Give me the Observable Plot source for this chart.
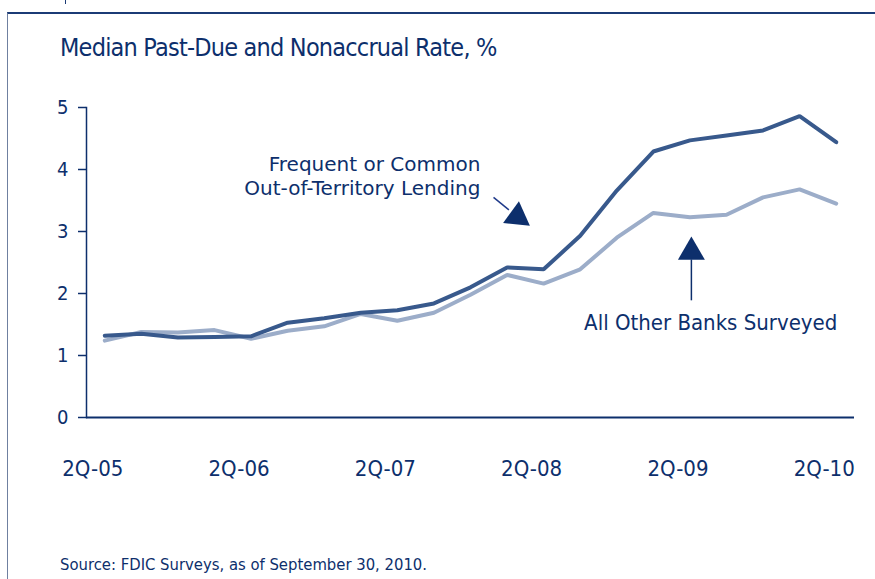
<!DOCTYPE html>
<html>
<head>
<meta charset="utf-8">
<script src="https://cdn.jsdelivr.net/npm/d3@7"></script>
<script src="https://cdn.jsdelivr.net/npm/@observablehq/plot@0.6"></script>
<style>
  html, body { margin: 0; padding: 0; background: #fff; }
  body { width: 875px; height: 579px; position: relative; overflow: hidden;
         font-family: "DejaVu Sans Condensed", "Liberation Sans", sans-serif; color: #0d2f6c; }
  #frame { position: absolute; left: 7px; top: 12px; right: 0; bottom: 0;
           border-top: 2px solid #1b3b76; border-left: 1px solid #6f80a0; }
  #nub { position: absolute; left: 65px; top: 0; width: 1px; height: 4px; background: #1b3b76; }
  #title { position: absolute; left: 60px; top: 33px; font-size: 25px; letter-spacing: -0.8px; line-height: 30px; white-space: nowrap; }
  #chart { position: absolute; left: 0; top: 80px; }
  #source { position: absolute; left: 60px; top: 555px; font-size: 16.5px; line-height: 20px; white-space: nowrap; }
</style>
</head>
<body>
<div id="frame"></div>
<div id="nub"></div>
<div id="title">Median Past-Due and Nonaccrual Rate, %</div>
<div id="chart"></div>
<div id="source">Source: FDIC Surveys, as of September 30, 2010.</div>
<script>
// Quarters 2Q-05 .. 2Q-10
const quarters = ["2Q-05","3Q-05","4Q-05","1Q-06","2Q-06","3Q-06","4Q-06","1Q-07","2Q-07","3Q-07","4Q-07",
                  "1Q-08","2Q-08","3Q-08","4Q-08","1Q-09","2Q-09","3Q-09","4Q-09","1Q-10","2Q-10"];
// Frequent or Common Out-of-Territory Lending
const outOfTerritory = [1.32,1.35,1.29,1.30,1.31,1.53,1.60,1.69,1.73,1.84,2.10,
                        2.42,2.39,2.93,3.66,4.29,4.47,4.55,4.63,4.86,4.44];
// All Other Banks Surveyed
const allOther = [1.24,1.38,1.37,1.41,1.27,1.40,1.47,1.67,1.56,1.69,1.98,
                  2.30,2.16,2.39,2.90,3.30,3.23,3.27,3.55,3.68,3.45];
const yTicks = [0,1,2,3,4,5];
const xTickLabels = ["2Q-05","2Q-06","2Q-07","2Q-08","2Q-09","2Q-10"];
const seriesNames = ["Frequent or Common\nOut-of-Territory Lending", "All Other Banks Surveyed"];

const NAVY = "#0d2f6c", DARK = "#38598c", LIGHT = "#9cadc9";
const narrow = `"DejaVu Sans Condensed", "Liberation Sans", sans-serif`;
const regular = `"DejaVu Sans", "Liberation Sans", sans-serif`;

const rows = quarters.map((q, i) => ({i, q, a: outOfTerritory[i], b: allOther[i]}));
const tickIdx = xTickLabels.map(l => quarters.indexOf(l));

// annotation anchors (data coordinates)
const darkLabel = [{x: 10.27, y: 3.90, t: seriesNames[0]}];
const darkStem = [{x1: 10.63, y1: 3.55, x2: 11.05, y2: 3.35}];
const darkHead = [{x: 11.28, y: 3.24}];
const lightLabel = [{x: 20.03, y: 1.53, t: seriesNames[1]}];
const lightStem = [{x1: 16.04, y1: 2.55, x2: 16.04, y2: 1.89}];
const lightHead = [{x: 16.04, y: 2.67}];

const chart = Plot.plot({
  width: 875, height: 400,
  marginLeft: 86, marginRight: 21, marginTop: 27, marginBottom: 63,
  style: {fontFamily: narrow, color: NAVY, background: "transparent"},
  x: {domain: [-0.5, 20.5], axis: null},
  y: {domain: [0, 5], axis: null},
  marks: [
    Plot.axisY({ticks: yTicks, tickSize: 8, tickPadding: 10, fontSize: 20, stroke: NAVY, fill: NAVY, strokeWidth: 1.5, label: null, tickFormat: d => d}),
    Plot.axisX({ticks: tickIdx, tickFormat: i => quarters[i], tickSize: 0, tickPadding: 43, fontSize: 22, fill: NAVY, dx: -12, label: null}),
    Plot.frame({anchor: "left", stroke: NAVY, strokeWidth: 1.5}),
    Plot.ruleY([0], {stroke: NAVY, strokeWidth: 2}),
    Plot.line(rows, {x: "i", y: "b", stroke: LIGHT, strokeWidth: 4, strokeLinejoin: "miter"}),
    Plot.line(rows, {x: "i", y: "a", stroke: DARK, strokeWidth: 4, strokeLinejoin: "miter"}),
    Plot.text(darkLabel, {x: "x", y: "y", text: "t", textAnchor: "end", lineHeight: 1.2, fontSize: 20, fontFamily: regular, fill: NAVY}),
    Plot.link(darkStem, {x1: "x1", y1: "y1", x2: "x2", y2: "y2", stroke: "#1f3a8a", strokeWidth: 1.5}),
    Plot.dot(darkHead, {x: "x", y: "y", symbol: "triangle", r: 10, rotate: 126, fill: NAVY, stroke: "none"}),
    Plot.text(lightLabel, {x: "x", y: "y", text: "t", textAnchor: "end", fontSize: 22, fill: NAVY}),
    Plot.link(lightStem, {x1: "x1", y1: "y1", x2: "x2", y2: "y2", stroke: NAVY, strokeWidth: 1.5}),
    Plot.dot(lightHead, {x: "x", y: "y", symbol: "triangle", r: 10, rotate: 0, fill: NAVY, stroke: "none"})
  ]
});
document.getElementById("chart").appendChild(chart);
</script>
</body>
</html>
